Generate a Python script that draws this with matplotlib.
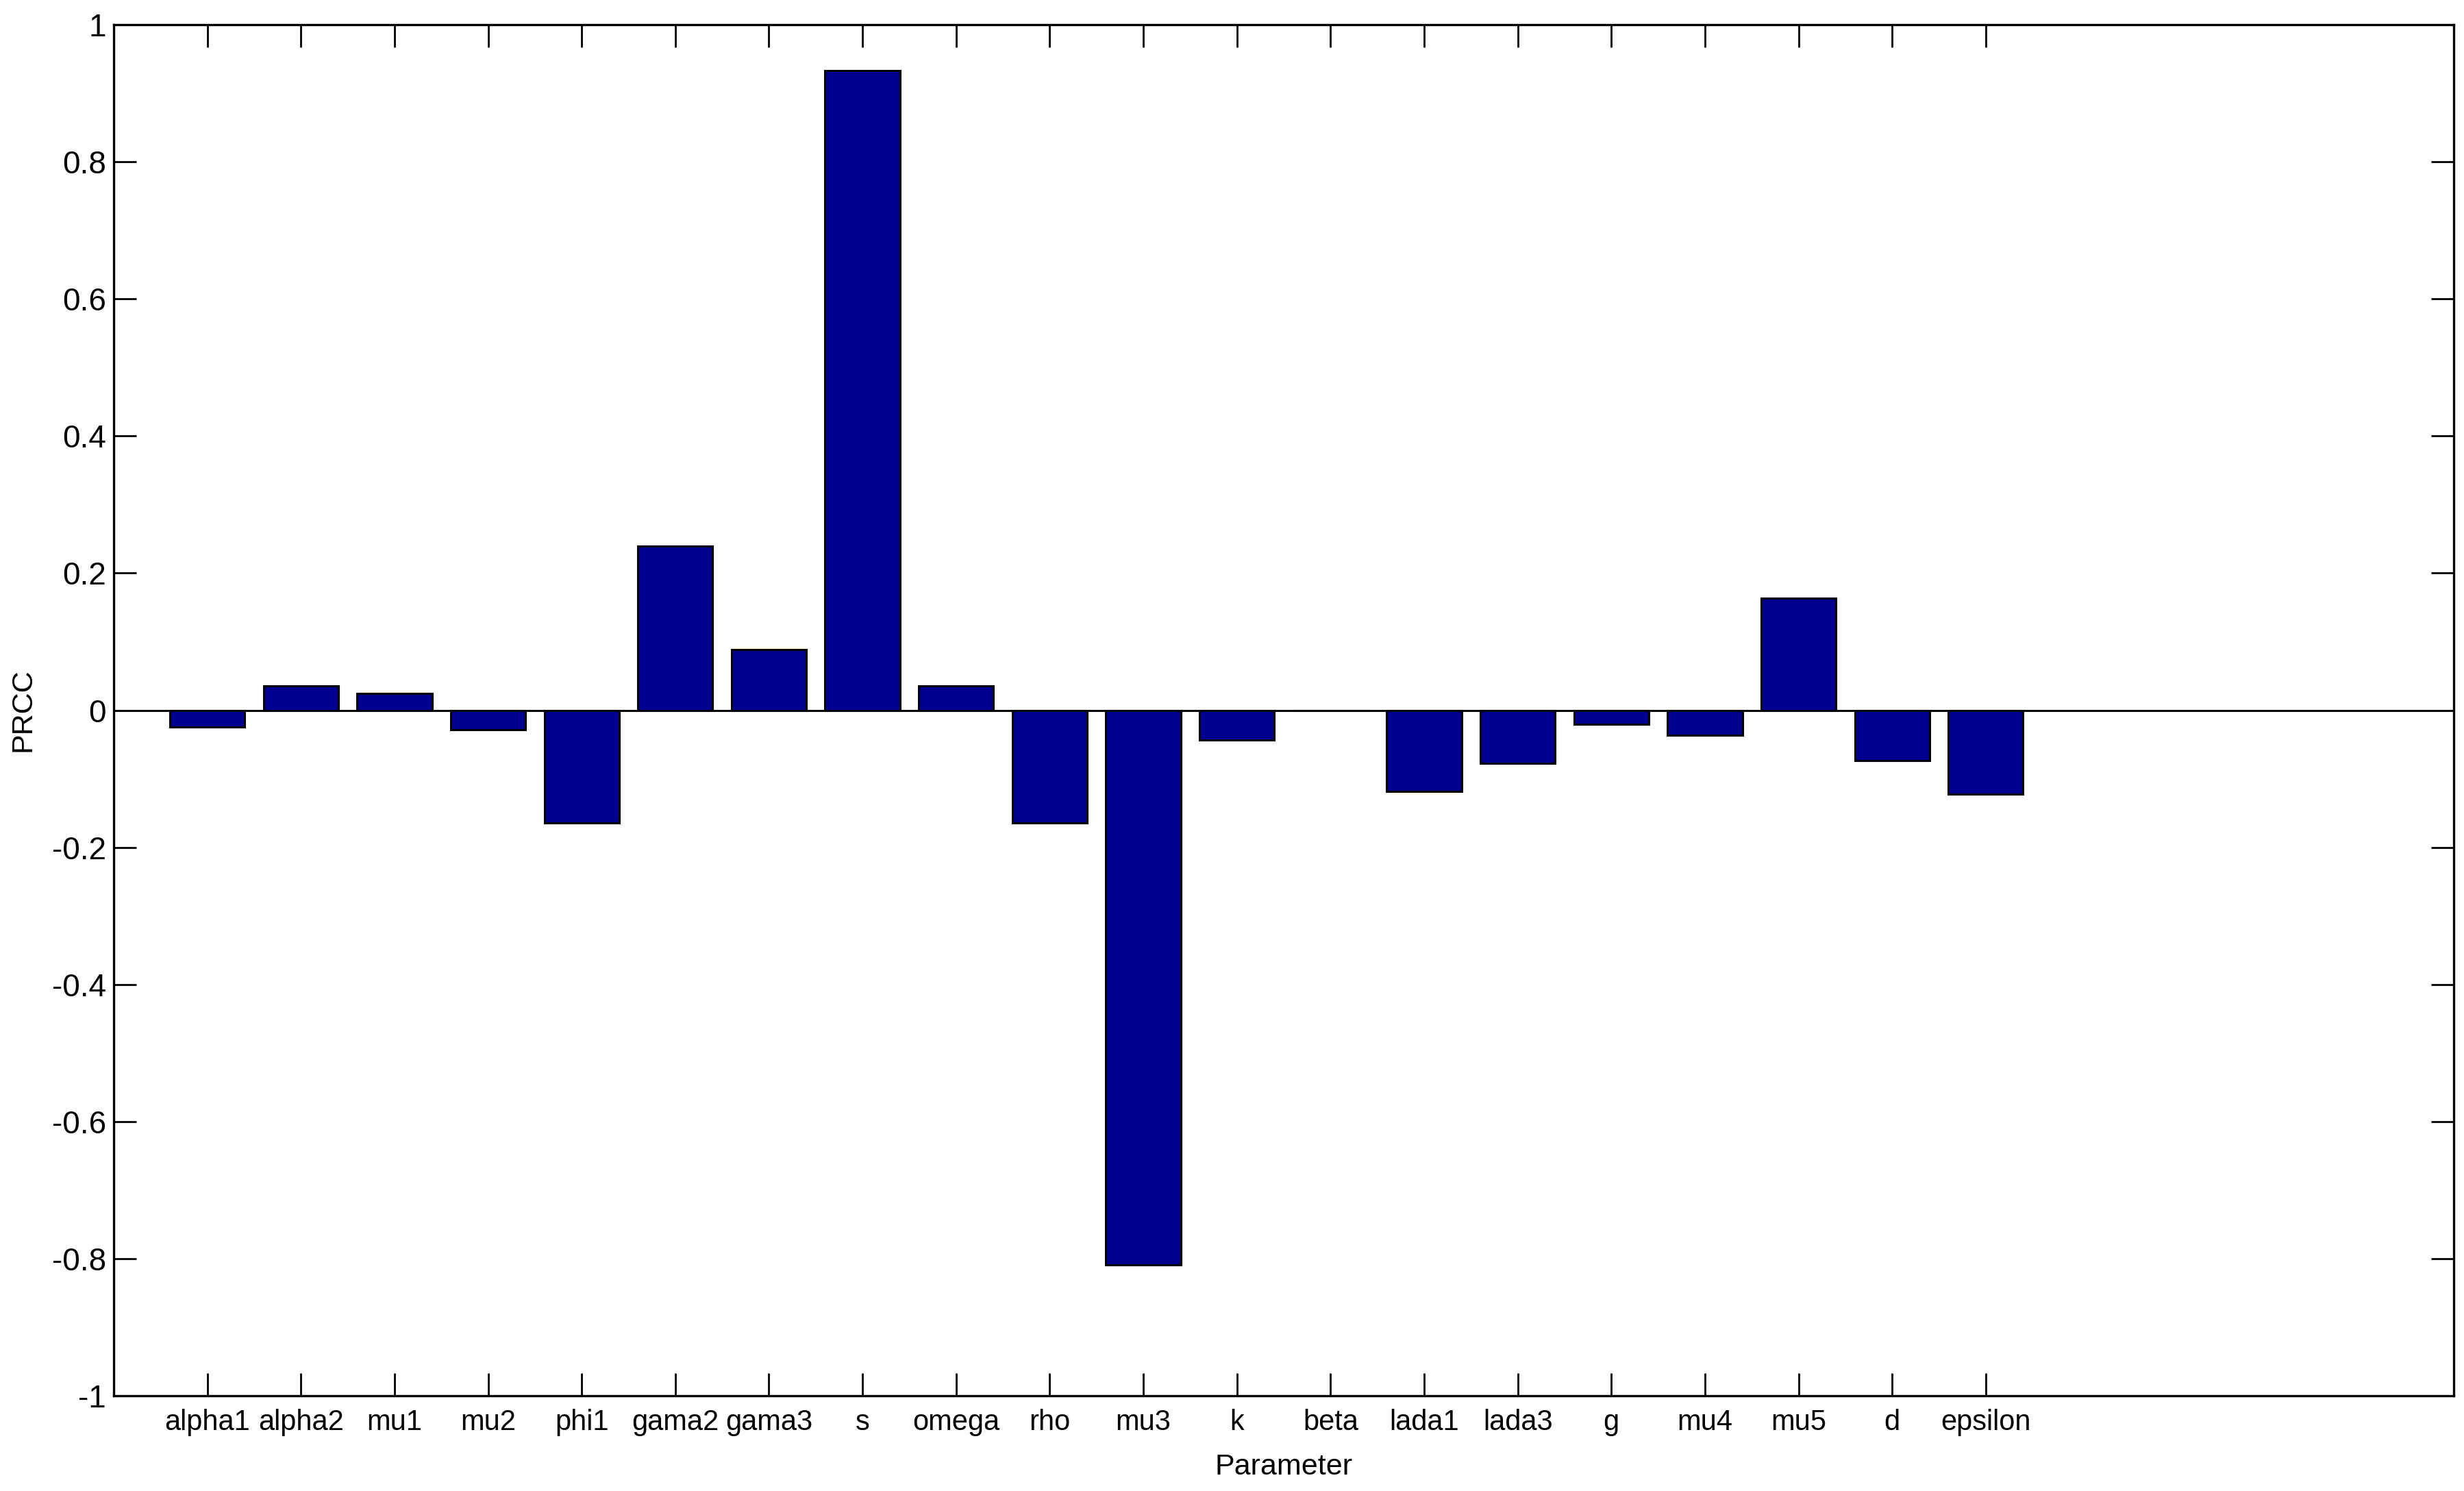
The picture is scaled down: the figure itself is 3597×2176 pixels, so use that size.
import matplotlib
matplotlib.use("Agg")
import matplotlib.pyplot as plt
from matplotlib import font_manager
import numpy as np

# PRCC values for each parameter
params = ["alpha1", "alpha2", "mu1", "mu2", "phi1", "gama2", "gama3", "s", "omega", "rho",
          "mu3", "k", "beta", "lada1", "lada3", "g", "mu4", "mu5", "d", "epsilon"]
prcc = [-0.024, 0.035, 0.024, -0.028, -0.164, 0.239, 0.088, 0.933, 0.035, -0.164,
        -0.809, -0.043, 0.0, -0.118, -0.077, -0.020, -0.036, 0.163, -0.073, -0.122]

yticks = [-1, -0.8, -0.6, -0.4, -0.2, 0, 0.2, 0.4, 0.6, 0.8, 1]
yticklabels = ["-1", "-0.8", "-0.6", "-0.4", "-0.2", "0", "0.2", "0.4", "0.6", "0.8", "1"]

# font: narrow sans if present
names = {f.name for f in font_manager.fontManager.ttflist}
fam = "Liberation Sans Narrow" if "Liberation Sans Narrow" in names else "Liberation Sans"
plt.rcParams["font.family"] = [fam, "DejaVu Sans"]
plt.rcParams["axes.unicode_minus"] = False

fig = plt.figure(figsize=(35.98, 21.76), dpi=100)
ax = fig.add_axes([166 / 3598, 1 - 2037 / 2176, (3582 - 166) / 3598, (2037 - 36) / 2176])

x = np.arange(1, len(params) + 1)
ax.bar(x, prcc, width=0.8, color="#00008F", edgecolor="black", linewidth=2.2, zorder=2)
ax.axhline(0, color="black", linewidth=2.2, zorder=3)

ax.set_xlim(0, 25)
ax.set_ylim(-1, 1)
ax.set_xticks(x)
ax.set_xticklabels(params)
ax.set_yticks(yticks)
ax.set_yticklabels(yticklabels)

ax.tick_params(axis="both", direction="in", length=24, width=2.0,
               top=True, right=True)
ax.tick_params(axis="x", labelsize=30, pad=14)
ax.tick_params(axis="y", labelsize=33, pad=8)
for sp in ax.spines.values():
    sp.set_linewidth(2.4)

ax.set_xlabel("Parameter", fontsize=31, va="center")
ax.xaxis.set_label_coords(0.5, (2037 - 2141) / 2001)
ax.set_ylabel("PRCC", fontsize=31, va="center")
ax.yaxis.set_label_coords((33 - 166) / 3416, 0.5)

fig.savefig("out.png", dpi=100, facecolor="white")
